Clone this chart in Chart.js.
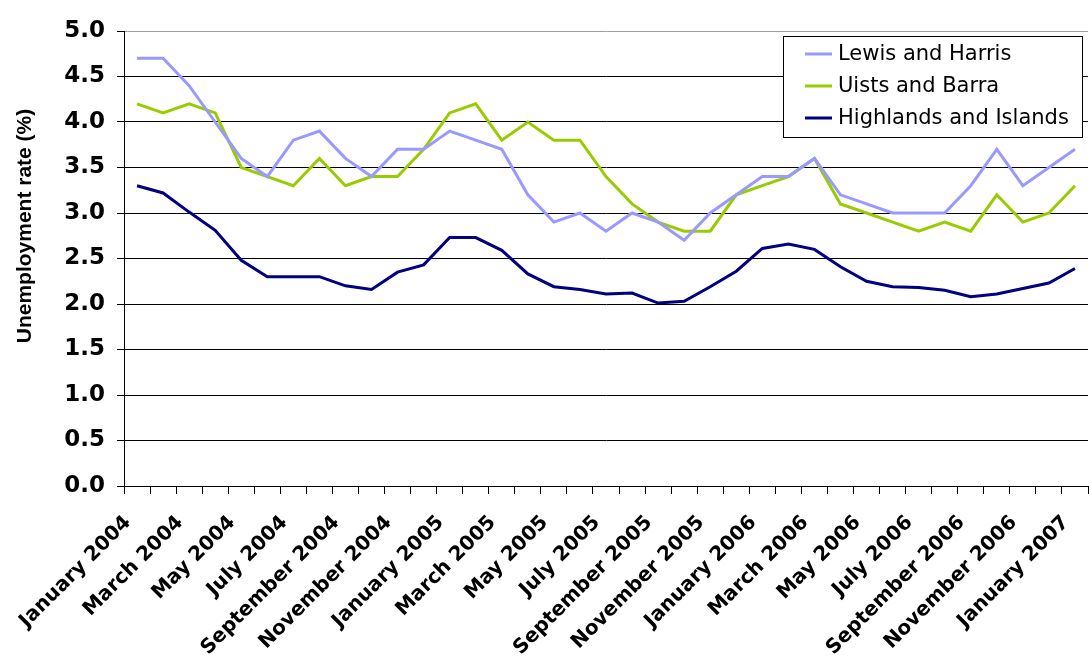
<!DOCTYPE html>
<html>
<head>
<meta charset="utf-8">
<script src="https://cdn.jsdelivr.net/npm/chart.js@4/dist/chart.umd.min.js"></script>
<style>
  html, body { margin: 0; padding: 0; background: #fff; }
  #wrap { width: 1089px; height: 657px; }
</style>
</head>
<body>
<div id="wrap"><canvas id="chart"></canvas></div>
<script>
const MONTHS = [
    'January 2004', 'February 2004', 'March 2004', 'April 2004', 'May 2004', 'June 2004',
    'July 2004', 'August 2004', 'September 2004', 'October 2004', 'November 2004', 'December 2004',
    'January 2005', 'February 2005', 'March 2005', 'April 2005', 'May 2005', 'June 2005',
    'July 2005', 'August 2005', 'September 2005', 'October 2005', 'November 2005', 'December 2005',
    'January 2006', 'February 2006', 'March 2006', 'April 2006', 'May 2006', 'June 2006',
    'July 2006', 'August 2006', 'September 2006', 'October 2006', 'November 2006', 'December 2006',
    'January 2007'
];

const LEWIS_HARRIS = [
    4.7, 4.7, 4.4, 4.0, 3.6, 3.4, 3.8, 3.9, 3.6, 3.4, 3.7, 3.7,
    3.9, 3.8, 3.7, 3.2, 2.9, 3.0, 2.8, 3.0, 2.9, 2.7, 3.0, 3.2,
    3.4, 3.4, 3.6, 3.2, 3.1, 3.0, 3.0, 3.0, 3.3, 3.7, 3.3, 3.5,
    3.7
];

const UISTS_BARRA = [
    4.2, 4.1, 4.2, 4.1, 3.5, 3.4, 3.3, 3.6, 3.3, 3.4, 3.4, 3.7,
    4.1, 4.2, 3.8, 4.0, 3.8, 3.8, 3.4, 3.1, 2.9, 2.8, 2.8, 3.2,
    3.3, 3.4, 3.6, 3.1, 3.0, 2.9, 2.8, 2.9, 2.8, 3.2, 2.9, 3.0,
    3.3
];

const HIGHLANDS_ISLANDS = [
    3.30, 3.22, 3.01, 2.81, 2.48, 2.30, 2.30, 2.30, 2.20, 2.16, 2.35, 2.43,
    2.73, 2.73, 2.59, 2.33, 2.19, 2.16, 2.11, 2.12, 2.01, 2.03, 2.19, 2.36,
    2.61, 2.66, 2.60, 2.41, 2.25, 2.19, 2.18, 2.15, 2.08, 2.11, 2.17, 2.23,
    2.39
];

const SERIES_NAMES = ['Lewis and Harris', 'Uists and Barra', 'Highlands and Islands'];
const SERIES_COLORS = ['#9999ff', '#99cc00', '#000080'];
const Y_TITLE = 'Unemployment rate (%)';

// legend box inside the plot area, plus the y title (sits above centre in the original)
const extras = {
    id: 'extras',
    afterDraw(chart) {
        const ctx = chart.ctx;
        const x = 783, y = 36, w = 299, h = 101;
        ctx.save();
        ctx.fillStyle = '#fff';
        ctx.fillRect(x, y, w, h);
        ctx.strokeStyle = '#000';
        ctx.lineWidth = 1;
        ctx.strokeRect(x + 0.5, y + 0.5, w, h);
        ctx.font = '21px "DejaVu Sans"';
        ctx.textBaseline = 'middle';
        chart.data.datasets.forEach((ds, i) => {
            const ly = y + 18 + i * 32;
            ctx.strokeStyle = ds.borderColor;
            ctx.lineWidth = 3;
            ctx.beginPath();
            ctx.moveTo(805, ly);
            ctx.lineTo(832, ly);
            ctx.stroke();
            ctx.fillStyle = '#000';
            ctx.fillText(ds.label, 838, ly + 1);
        });

        ctx.translate(25, 226);
        ctx.rotate(-Math.PI / 2);
        ctx.font = 'bold 21px "Liberation Sans"';
        ctx.textAlign = 'center';
        ctx.textBaseline = 'middle';
        ctx.fillStyle = '#000';
        ctx.fillText(Y_TITLE, 0, 0);
        ctx.restore();
    }
};

const datasets = [LEWIS_HARRIS, UISTS_BARRA, HIGHLANDS_ISLANDS].map((values, i) => ({
    label: SERIES_NAMES[i],
    data: values,
    borderColor: SERIES_COLORS[i],
    backgroundColor: SERIES_COLORS[i],
    borderWidth: 3,
    pointRadius: 0,
    tension: 0,
    fill: false
}));

new Chart(document.getElementById('chart'), {
    type: 'line',
    data: { labels: MONTHS, datasets: datasets },
    plugins: [extras],
    options: {
        responsive: true,
        maintainAspectRatio: false,
        animation: false,
        layout: { padding: { top: 31, right: 1, left: 0, bottom: 0 } },
        plugins: {
            legend: { display: false },
            tooltip: { enabled: false }
        },
        scales: {
            x: {
                offset: true,
                grid: {
                    offset: true,
                    drawOnChartArea: false,
                    drawTicks: true,
                    tickLength: 8,
                    color: '#000'
                },
                border: { color: '#000', width: 1 },
                ticks: {
                    autoSkip: false,
                    maxRotation: 45,
                    minRotation: 45,
                    color: '#000',
                    padding: 17,
                    labelOffset: -9,
                    font: { family: '"DejaVu Sans"', size: 20, weight: 'bold' },
                    callback: function (value, index) {
                        return index % 2 === 0 ? this.getLabelForValue(value) : '';
                    }
                },
                afterFit(scale) {
                    scale.height = 171;
                    scale.paddingLeft = 0;
                    scale.paddingRight = 0;
                }
            },
            y: {
                min: 0,
                max: 5,
                ticks: {
                    stepSize: 0.5,
                    color: '#000',
                    padding: 12,
                    font: { family: '"DejaVu Sans"', size: 23, weight: 'bold' },
                    callback: (v) => v.toFixed(1)
                },
                grid: {
                    color: (c) => (c.tick && c.tick.value === 5 ? '#a0a0a0' : '#000'),
                    tickColor: '#000',
                    tickLength: 7,
                    lineWidth: 1
                },
                border: { color: '#000', width: 1 },
                afterFit(scale) { scale.width = 124; }
            }
        }
    }
});
</script>
</body>
</html>
